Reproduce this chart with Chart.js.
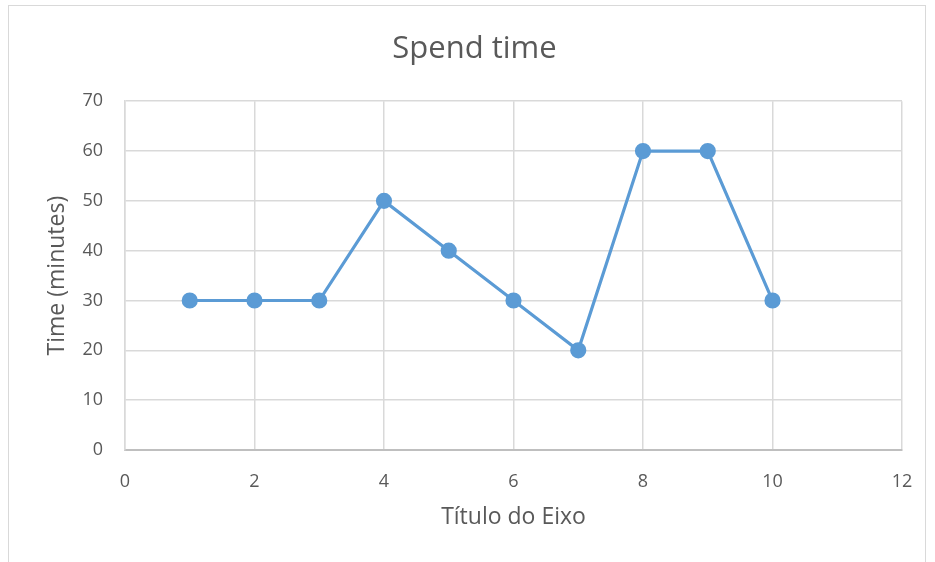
<!DOCTYPE html>
<html>
<head>
<meta charset="utf-8">
<script src="https://cdn.jsdelivr.net/npm/chart.js@4"></script>
<style>
  html, body { margin: 0; padding: 0; background: #fff; }
  #wrap { position: relative; width: 935px; height: 562px; }
  #frame { position: absolute; left: 8px; top: 5px; width: 918px; height: 560px; border: 1px solid #d9d9d9; box-sizing: border-box; }
  canvas { position: absolute; left: 0; top: 0; }
</style>
</head>
<body>
<div id="wrap">
  <div id="frame"></div>
  <canvas id="chart" width="935" height="562"></canvas>
</div>
<script>
// values
const xValues = [1, 2, 3, 4, 5, 6, 7, 8, 9, 10];
const timeValues = [30, 30, 30, 50, 40, 30, 20, 60, 60, 30];
const chartTitle = 'Spend time';
const xTitle = 'Título do Eixo';
const yTitle = 'Time (minutes)';

const points = xValues.map((x, i) => ({ x: x, y: timeValues[i] }));
const textColor = '#595959';
const gridColor = '#d9d9d9';
const fontFamily = '"Open Sans", sans-serif';

new Chart(document.getElementById('chart'), {
    type: 'scatter',
    data: {
        datasets: [{
            label: yTitle,
            data: points,
            showLine: true,
            borderColor: '#5b9bd5',
            backgroundColor: '#5b9bd5',
            borderWidth: 3.2,
            pointRadius: 6.5,
            pointHoverRadius: 6.5
        }]
    },
    options: {
        responsive: false,
        animation: false,
        layout: { padding: { left: 14, right: 0, top: 0, bottom: 0 } },
        plugins: {
            legend: { display: false },
            tooltip: { enabled: false },
            title: {
                display: true,
                text: chartTitle,
                color: textColor,
                font: { family: fontFamily, size: 31, weight: 'normal' },
                padding: { top: 31, bottom: 33 }
            }
        },
        scales: {
            x: {
                type: 'linear',
                min: 0,
                max: 12,
                ticks: { stepSize: 2, color: textColor, padding: 21, font: { family: fontFamily, size: 18 } },
                grid: { color: gridColor, lineWidth: 1.5, drawTicks: false },
                border: { color: '#bfbfbf', width: 2 },
                title: { display: true, text: xTitle, color: textColor, padding: 31, font: { family: fontFamily, size: 23 } },
                afterFit: (axis) => { axis.height = 112; }
            },
            y: {
                min: 0,
                max: 70,
                ticks: { stepSize: 10, color: textColor, padding: 22, font: { family: fontFamily, size: 18 } },
                grid: { color: gridColor, lineWidth: 1.5, drawTicks: false },
                border: { color: gridColor, width: 1.5 },
                title: { display: true, text: yTitle, color: textColor, padding: 30, font: { family: fontFamily, size: 23 } },
                afterFit: (axis) => { axis.width = 111; }
            },
            // empty axis that only keeps the right margin
            yRight: {
                position: 'right',
                min: 0,
                max: 70,
                ticks: { display: false },
                grid: { display: false },
                border: { display: false },
                afterFit: (axis) => { axis.width = 33; }
            }
        }
    }
});
</script>
</body>
</html>
